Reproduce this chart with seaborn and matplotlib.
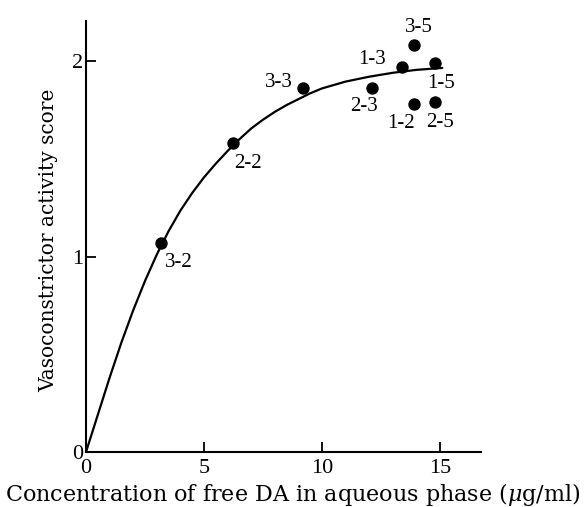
import matplotlib
matplotlib.use("Agg")
import matplotlib.pyplot as plt
import seaborn as sns
import pandas as pd

# Data points (concentration, score, label)
conc = [3.18, 6.23, 9.2, 12.1, 13.4, 13.9, 13.9, 14.8, 14.8]
score = [1.07, 1.58, 1.86, 1.86, 1.97, 2.08, 1.78, 1.99, 1.79]
labels = ["3-2", "2-2", "3-3", "2-3", "1-3", "3-5", "1-2", "1-5", "2-5"]
# label offsets in pixels (dx, dy) relative to each point
label_dx = [18, 15, -24, -8, -30, 5, -13, 6, 5]
label_dy = [-20, -20, 6, -18, 7, 18, -19, -20, -20]

# Fitted curve
curve_x = [0, 0.5, 1, 1.5, 2, 2.5, 3, 3.5, 4, 4.5, 5, 5.5, 6, 6.5, 7, 7.5, 8, 8.5, 9,
           9.5, 10, 11, 12, 13, 14, 15.1]
curve_y = [0, 0.19, 0.38, 0.56, 0.725, 0.875, 1.01, 1.13, 1.235, 1.325, 1.405, 1.475,
           1.54, 1.60, 1.655, 1.70, 1.74, 1.775, 1.805, 1.835, 1.86, 1.895, 1.92, 1.94,
           1.955, 1.965]

xticks = [0, 5, 10, 15]
yticks = [0, 1, 2]

sns.set_style("ticks")
plt.rcParams["font.family"] = ["Liberation Serif", "DejaVu Serif"]
plt.rcParams["mathtext.fontset"] = "dejavuserif"
for k in ["text.color", "axes.labelcolor", "xtick.color", "ytick.color", "axes.edgecolor"]:
    plt.rcParams[k] = "black"

fig = plt.figure(figsize=(5.85, 5.07), dpi=100)
ax = fig.add_axes([86 / 585, 55 / 507, 395 / 585, 431 / 507])

pts = pd.DataFrame({"x": conc, "y": score, "label": labels})
crv = pd.DataFrame({"x": curve_x, "y": curve_y})

sns.lineplot(data=crv, x="x", y="y", ax=ax, color="black", linewidth=1.6, sort=False)
sns.scatterplot(data=pts, x="x", y="y", ax=ax, color="black", s=80, edgecolor="black",
                linewidth=0, zorder=3)

for xv, yv, lab, dx, dy in zip(conc, score, labels, label_dx, label_dy):
    ax.annotate(lab, (xv, yv), xytext=(dx, dy), textcoords="offset pixels",
                ha="center", va="center", fontsize=15, color="black")

ax.set_xlim(0, 16.74)
ax.set_ylim(0, 2.205)
ax.set_xticks(xticks)
ax.set_yticks(yticks)
ax.tick_params(direction="in", length=7, width=1.3, labelsize=16, pad=5, colors="black")
ax.tick_params(axis="y", pad=2)
for s in ["top", "right"]:
    ax.spines[s].set_visible(False)
for s in ["left", "bottom"]:
    ax.spines[s].set_linewidth(1.5)
    ax.spines[s].set_color("black")

ax.set_xlabel("Concentration of free DA in aqueous phase ($\\mu$g/ml)", fontsize=16,
              va="center", family="DejaVu Serif")
ax.set_ylabel("Vasoconstrictor activity score", fontsize=14.5, va="center",
              family="DejaVu Serif")
ax.xaxis.set_label_coords(0.524, -0.099)
ax.yaxis.set_label_coords(-0.094, 0.49)

fig.savefig("out.png", dpi=100)
